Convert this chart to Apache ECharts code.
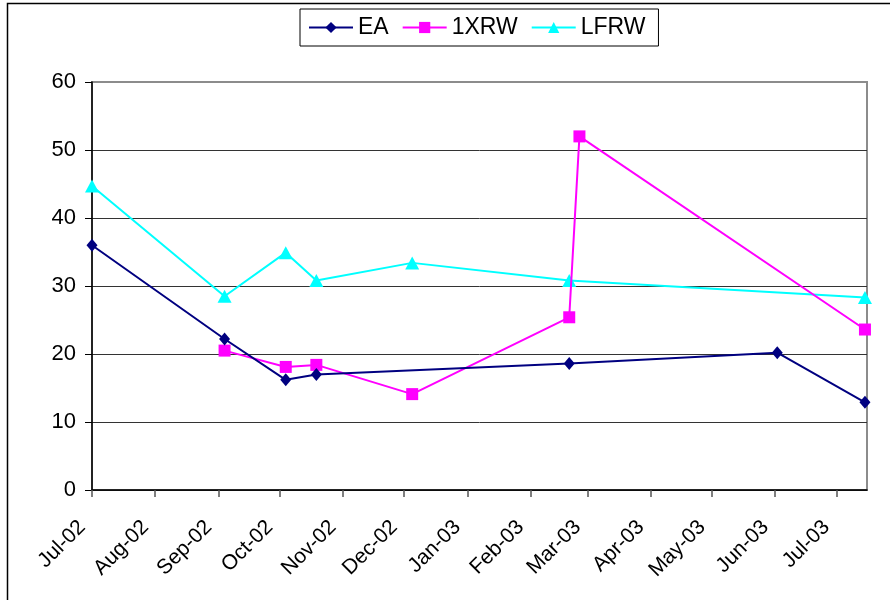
<!DOCTYPE html>
<html>
<head>
<meta charset="utf-8">
<script src="https://cdn.jsdelivr.net/npm/echarts@6/dist/echarts.min.js"></script>
<style>
  html, body { margin: 0; padding: 0; background: #fff; }
  #chart { width: 890px; height: 600px; }
</style>
</head>
<body>
<div id="chart"></div>
<script>
// Sampling dates and readings for each series
const eaDates   = ['2002-07-01', '2002-09-04', '2002-10-04', '2002-10-19', '2003-02-20', '2003-06-02', '2003-07-15'];
const eaValues  = [36.0, 22.2, 16.2, 17.0, 18.6, 20.2, 12.9];

const xrwDates  = ['2002-09-04', '2002-10-04', '2002-10-19', '2002-12-05', '2003-02-20', '2003-02-25', '2003-07-15'];
const xrwValues = [20.5, 18.1, 18.4, 14.1, 25.4, 52.0, 23.6];

const lfrwDates  = ['2002-07-01', '2002-09-04', '2002-10-04', '2002-10-19', '2002-12-05', '2003-02-20', '2003-07-15'];
const lfrwValues = [44.7, 28.5, 34.9, 30.8, 33.4, 30.8, 28.3];

const monthNames = ['Jan', 'Feb', 'Mar', 'Apr', 'May', 'Jun', 'Jul', 'Aug', 'Sep', 'Oct', 'Nov', 'Dec'];
const yTicks = [0, 10, 20, 30, 40, 50, 60];

const axisStart = '2002-07-01';
const axisEnd = '2003-07-16';

function toUTC(s) {
  const p = s.split('-').map(Number);
  return Date.UTC(p[0], p[1] - 1, p[2]);
}
function pairs(dates, values) {
  return dates.map((d, i) => [toUTC(d), values[i]]);
}
function monthLabel(v) {
  const d = new Date(v);
  const yy = String(d.getUTCFullYear() % 100).padStart(2, '0');
  return monthNames[d.getUTCMonth()] + '-' + yy;
}

const FONT = '"Liberation Sans", Arial, sans-serif';
const DAY = 86400000;

const chart = echarts.init(document.getElementById('chart'), null, { renderer: 'canvas' });
chart.setOption({
  useUTC: true,
  animation: false,
  backgroundColor: '#ffffff',
  graphic: [{
    type: 'rect',
    shape: { x: 7.5, y: 3.5, width: 900, height: 700 },
    style: { fill: 'none', stroke: '#000', lineWidth: 1.5 },
    silent: true
  }],
  legend: {
    top: 9,
    left: 300,
    orient: 'horizontal',
    padding: [7, 13, 7, 8],
    itemGap: 13,
    itemWidth: 44,
    itemHeight: 14,
    borderColor: '#000',
    borderWidth: 1,
    textStyle: { fontFamily: FONT, fontSize: 23, color: '#000' },
    data: ['EA', '1XRW', 'LFRW']
  },
  grid: {
    left: 92, right: 23, top: 82, bottom: 110,
    show: true, borderColor: '#8c8c8c', borderWidth: 2, backgroundColor: 'transparent'
  },
  xAxis: {
    type: 'time',
    min: toUTC(axisStart),
    max: toUTC(axisEnd),
    minInterval: 28 * DAY,
    maxInterval: 31 * DAY,
    axisLine: { lineStyle: { color: '#000', width: 1.5 } },
    axisTick: { show: true, length: 7, lineStyle: { color: '#555', width: 1.5 } },
    axisLabel: {
      rotate: 45,
      margin: 24,
      padding: [0, 14, 0, 0],
      fontFamily: FONT,
      fontSize: 21,
      color: '#000',
      hideOverlap: false,
      showMaxLabel: false,
      formatter: monthLabel
    },
    splitLine: { show: false }
  },
  yAxis: {
    type: 'value',
    min: yTicks[0],
    max: yTicks[yTicks.length - 1],
    interval: 10,
    axisLine: { show: true, lineStyle: { color: '#000', width: 1.5 } },
    axisTick: { show: true, length: 7, lineStyle: { color: '#000', width: 1 } },
    axisLabel: { margin: 16, fontFamily: FONT, fontSize: 22, color: '#000' },
    splitLine: { show: true, showMaxLine: false, lineStyle: { color: '#333', width: 1 } }
  },
  series: [
    {
      name: 'EA', type: 'line',
      data: pairs(eaDates, eaValues),
      symbol: 'diamond', symbolSize: [11, 13],
      itemStyle: { color: '#000080' },
      lineStyle: { color: '#000080', width: 2 },
      z: 4
    },
    {
      name: '1XRW', type: 'line',
      data: pairs(xrwDates, xrwValues),
      symbol: 'rect', symbolSize: 12,
      itemStyle: { color: '#ff00ff' },
      lineStyle: { color: '#ff00ff', width: 2 },
      z: 3
    },
    {
      name: 'LFRW', type: 'line',
      data: pairs(lfrwDates, lfrwValues),
      symbol: 'triangle', symbolSize: [14, 13],
      itemStyle: { color: '#00ffff' },
      lineStyle: { color: '#00ffff', width: 2 },
      z: 2
    }
  ]
});
</script>
</body>
</html>
